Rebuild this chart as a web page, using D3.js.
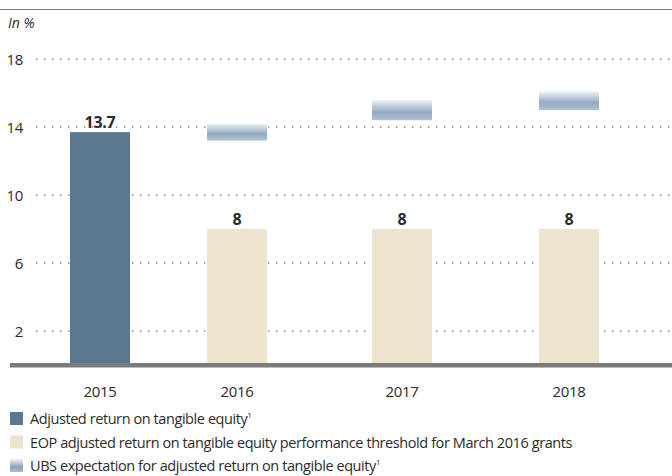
<!DOCTYPE html>
<html>
<head>
<meta charset="utf-8">
<script src="https://cdn.jsdelivr.net/npm/d3@7"></script>
<style>
  html, body { margin: 0; padding: 0; background: #fff; }
  svg { display: block; }
  text { font-family: "Open Sans", "Noto Sans", sans-serif; fill: #2b2b2b; }
</style>
</head>
<body>
<svg id="chart" width="672" height="476"></svg>
<script>
// Adjusted return on tangible equity, actual and targets (in %)
const years = ["2015", "2016", "2017", "2018"];
const actual = [13.7, null, null, null];
const threshold = [null, 8, 8, 8];
const expectationLow = [null, 13.2, 14.4, 15.0];
const expectationHigh = [null, 14.2, 15.6, 16.1];
const yTicks = [2, 6, 10, 14, 18];
const legendLabels = [
  "Adjusted return on tangible equity",
  "EOP adjusted return on tangible equity performance threshold for March 2016 grants",
  "UBS expectation for adjusted return on tangible equity"
];
const legendNotes = ["1", "", "1"];

const svg = d3.select("#chart");
const W = 672;

const colActual = "#5b7891";
const colThreshold = "#ede3cf";
const colAxis = "#7b7b7d";

const y = d3.scaleLinear().domain([0, 18]).range([365, 59]);
const x = d3.scaleOrdinal().domain(years).range([100, 237, 402, 569]);
const barW = 60;

// Gradient for the expectation ranges
const defs = svg.append("defs");
const grad = defs.append("linearGradient")
  .attr("id", "expGrad").attr("x1", 0).attr("x2", 0).attr("y1", 0).attr("y2", 1);
grad.append("stop").attr("offset", "0%").attr("stop-color", "#f1f3f7");
grad.append("stop").attr("offset", "60%").attr("stop-color", "#8ba3bd");
grad.append("stop").attr("offset", "100%").attr("stop-color", "#aabdd0");

// Header rule and unit label
svg.append("line")
  .attr("x1", 0).attr("x2", W).attr("y1", 9.5).attr("y2", 9.5)
  .attr("stroke", "#7a7a7a").attr("stroke-width", 1);
svg.append("text")
  .attr("x", 8).attr("y", 28)
  .attr("font-size", 14).attr("font-style", "italic")
  .text("In %");

// Dotted gridlines and y labels
const grid = svg.append("g");
grid.selectAll("line").data(yTicks).join("line")
  .attr("x1", 36).attr("x2", W)
  .attr("y1", d => y(d)).attr("y2", d => y(d))
  .attr("stroke", "#8a8a8a").attr("stroke-width", 1.4)
  .attr("stroke-dasharray", "1.4,6.6");
grid.selectAll("text").data(yTicks).join("text")
  .attr("x", 23).attr("y", d => y(d) + 5.5)
  .attr("text-anchor", "end").attr("font-size", 15)
  .attr("letter-spacing", -0.3)
  .text(d => d);

// Actual bar
const actualData = years.map((yr, i) => ({ yr, v: actual[i] })).filter(d => d.v != null);
svg.append("g").selectAll("rect").data(actualData).join("rect")
  .attr("x", d => x(d.yr) - barW / 2).attr("width", barW)
  .attr("y", d => y(d.v)).attr("height", d => y(0) - y(d.v))
  .attr("fill", colActual);

// Threshold bars
const thrData = years.map((yr, i) => ({ yr, v: threshold[i] })).filter(d => d.v != null);
svg.append("g").selectAll("rect").data(thrData).join("rect")
  .attr("x", d => x(d.yr) - barW / 2).attr("width", barW)
  .attr("y", d => y(d.v)).attr("height", d => y(0) - y(d.v))
  .attr("fill", colThreshold);

// Expectation ranges
const expData = years.map((yr, i) => ({ yr, lo: expectationLow[i], hi: expectationHigh[i] }))
  .filter(d => d.lo != null);
svg.append("g").selectAll("rect").data(expData).join("rect")
  .attr("x", d => x(d.yr) - barW / 2).attr("width", barW)
  .attr("y", d => y(d.hi)).attr("height", d => y(d.lo) - y(d.hi))
  .attr("fill", "url(#expGrad)").attr("opacity", 0.92);

// Value labels
const labelData = actualData.concat(thrData);
svg.append("g").selectAll("text").data(labelData).join("text")
  .attr("x", d => x(d.yr)).attr("y", d => y(d.v) - 4)
  .attr("text-anchor", "middle").attr("font-size", 16).attr("font-weight", "bold")
  .attr("letter-spacing", -0.3)
  .text(d => d.v);

// Baseline
svg.append("rect")
  .attr("x", 10).attr("width", W - 10)
  .attr("y", y(0) - 2).attr("height", 4.5)
  .attr("fill", colAxis);

// Category labels
svg.append("g").selectAll("text").data(years).join("text")
  .attr("x", d => x(d)).attr("y", 397)
  .attr("text-anchor", "middle").attr("font-size", 15)
  .attr("letter-spacing", -0.3)
  .text(d => d);

// Legend
const swatchFill = [colActual, colThreshold, "url(#expGrad)"];
const leg = svg.append("g").selectAll("g").data(legendLabels).join("g")
  .attr("transform", (d, i) => `translate(10, ${412 + i * 23.5})`);
leg.append("rect")
  .attr("width", 13).attr("height", 13)
  .attr("fill", (d, i) => swatchFill[i]);
const lt = leg.append("text")
  .attr("x", 20).attr("y", 12).attr("font-size", 14.5)
  .attr("letter-spacing", -0.42);
lt.append("tspan").text(d => d);
lt.append("tspan")
  .attr("font-size", 8).attr("dy", -6).attr("letter-spacing", 0)
  .text((d, i) => legendNotes[i]);
</script>
</body>
</html>
